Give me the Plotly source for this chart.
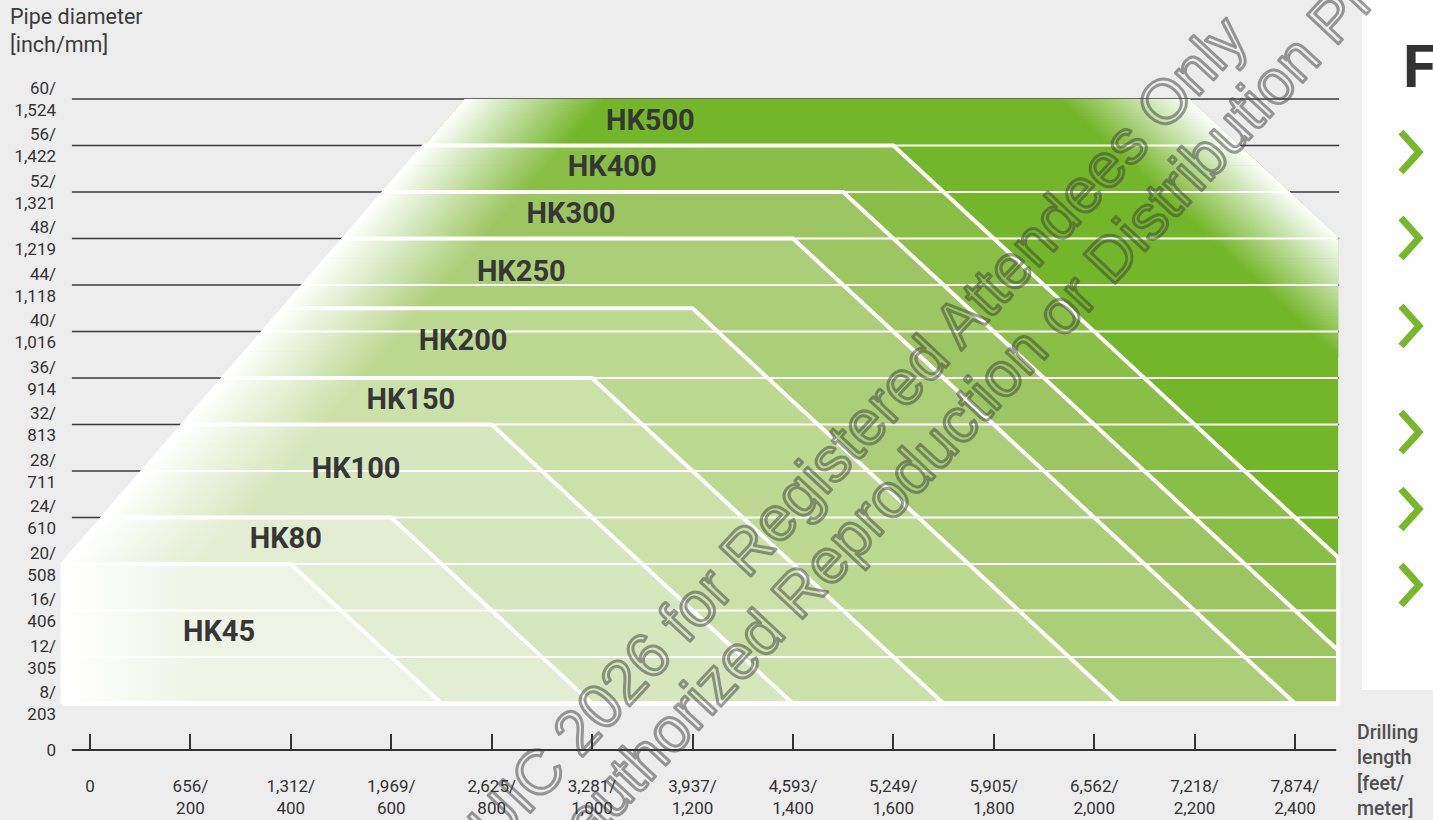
import math
import plotly.graph_objects as go

# ---------------- data ----------------
models = ["HK45", "HK80", "HK100", "HK150", "HK200", "HK250", "HK300", "HK400", "HK500"]
max_diameter_in = [20, 24, 32, 36, 42, 48, 52, 56, 60]          # top of each band
full_diameter_length_m = [400, 600, 800, 1000, 1200, 1400, 1500, 1600, 2190]  # end of flat top
band_colors = ["#eef3e5", "#e2edd1", "#d6e7bd", "#cbe1a9", "#bcd891",
               "#abcf79", "#9bc661", "#89be47", "#74b62a"]
label_x_m = [257, 390, 530, 639, 743, 859, 958, 1040, 1116]

diameter_in = [8, 12, 16, 20, 24, 28, 32, 36, 40, 44, 48, 52, 56, 60]
diameter_mm = [203, 305, 406, 508, 610, 711, 813, 914, 1016, 1118, 1219, 1321, 1422, 1524]
length_m = [0, 200, 400, 600, 800, 1000, 1200, 1400, 1600, 1800, 2000, 2200, 2400]
length_ft = [0, 656, 1312, 1969, 2625, 3281, 3937, 4593, 5249, 5905, 6562, 7218, 7874]

# ---------------- geometry / style constants ----------------
ZERO_POS = 4        # axis break: the "0" tick sits one step below 8 inch
MIN_D = 8           # bottom of the band area
ENV_X0 = -54        # left edge of band area (m)
ENV_KNEE = 20       # left edge is vertical up to this diameter
ENV_SLOPE = 20      # m per inch of the slanted left edge
DIAG = 25           # m per inch of the band diagonals
RIGHT_X = 2486      # right edge of band area (m)
GRID_X0, GRID_X1 = -36, 2488
AXIS_X1 = 2482
FADE_L = 280
FADE_R = 260
STEP = 0.25

W, H = 1433, 820
ML, MR, MT, MB = 60, 78, 52, 68
PLOT_W, PLOT_H = W - ML - MR, H - MT - MB
PX_PER_IN = 11.625
X_RANGE = [-59.75, 2519.5]
Y0 = ZERO_POS - 2 / PX_PER_IN
Y_RANGE = [Y0, Y0 + PLOT_H / PX_PER_IN]

TOP_D = max_diameter_in[-1]
L_TOP = full_diameter_length_m[-1]
FONT = "Roboto, Arial, sans-serif"


def paper_x(px):
    return (px - ML) / PLOT_W


def paper_y(py):
    return (H - MB - py) / PLOT_H


def env_left(d):
    return ENV_X0 + max(0.0, d - ENV_KNEE) * ENV_SLOPE


def top_right_edge(d):
    return min(RIGHT_X, L_TOP + DIAG * (TOP_D - d))


def band_outline(D, L):
    pts = [(ENV_X0, MIN_D), (ENV_X0, min(D, ENV_KNEE))]
    if D > ENV_KNEE:
        pts.append((env_left(D), D))
    pts.append((L, D))
    x_end = L + DIAG * (D - MIN_D)
    if x_end <= RIGHT_X:
        pts.append((x_end, MIN_D))
    else:
        d_hit = D - (RIGHT_X - L) / DIAG
        pts += [(RIGHT_X, d_hit), (RIGHT_X, MIN_D)]
    pts.append((ENV_X0, MIN_D))
    return [p[0] for p in pts], [p[1] for p in pts]


fig = go.Figure()

# black gridlines
gx, gy = [], []
for d in diameter_in:
    if d >= 12:
        gx += [GRID_X0, GRID_X1, None]
        gy += [d, d, None]
fig.add_trace(go.Scatter(x=gx, y=gy, mode="lines", line=dict(color="#3a3a3a", width=1.5),
                         hoverinfo="skip", showlegend=False))

# solid band fills (largest first)
for i in reversed(range(len(models))):
    bx, by = band_outline(max_diameter_in[i], full_diameter_length_m[i])
    fig.add_trace(go.Scatter(x=bx, y=by, mode="lines", line=dict(width=0), fill="toself",
                             fillcolor=band_colors[i], hoverinfo="skip", showlegend=False))

# left white fade
for i in range(len(models)):
    lo = max_diameter_in[i - 1] if i > 0 else MIN_D
    hi = max_diameter_in[i]
    if hi <= ENV_KNEE:
        segs = [(lo, hi)]
    else:
        n = int(round((hi - lo) / STEP))
        segs = [(lo + k * STEP, lo + (k + 1) * STEP) for k in range(n)]
    for (y0, y1) in segs:
        y1o = min(y1 + 0.06, hi)
        a0, a1 = env_left(y0), env_left(y1o)
        st = env_left((y0 + y1) / 2)
        fig.add_trace(go.Scatter(
            x=[a0, a0 + FADE_L + 12, a1 + FADE_L + 12, a1, a0], y=[y0, y0, y1o, y1o, y0],
            mode="lines", line=dict(width=0), fill="toself",
            fillgradient=dict(type="horizontal", colorscale=[[0, "#ffffff"], [1, band_colors[i]]],
                              start=st, stop=st + FADE_L),
            hoverinfo="skip", showlegend=False))

# top-right white fade (largest band)
d_start = TOP_D - (RIGHT_X + FADE_R - L_TOP) / DIAG
d_hit = TOP_D - (RIGHT_X - L_TOP) / DIAG
n = int(math.ceil((TOP_D - d_start) / STEP))
for j in range(n):
    y0 = TOP_D - (j + 1) * STEP
    y1 = TOP_D - j * STEP
    y1o = min(y1 + 0.06, TOP_D)
    xd0 = L_TOP + DIAG * (TOP_D - y0)
    xd1 = L_TOP + DIAG * (TOP_D - y1o)
    left0 = min(xd0 - FADE_R - 12, RIGHT_X)
    left1 = min(xd1 - FADE_R - 12, RIGHT_X)
    xs = [left0, top_right_edge(y0)]
    ys = [y0, y0]
    if y0 < d_hit < y1o:
        xs.append(RIGHT_X)
        ys.append(d_hit)
    xs += [top_right_edge(y1o), left1, left0]
    ys += [y1o, y1o, y0]
    mid = L_TOP + DIAG * (TOP_D - (y0 + y1) / 2)
    fig.add_trace(go.Scatter(
        x=xs, y=ys, mode="lines", line=dict(width=0), fill="toself",
        fillgradient=dict(type="horizontal", colorscale=[[0, band_colors[-1]], [1, "#ffffff"]],
                          start=mid - FADE_R, stop=mid),
        hoverinfo="skip", showlegend=False))

# thin white gridlines inside the area
wx, wy = [], []
for d in diameter_in:
    if 12 <= d < TOP_D:
        wx += [env_left(d), top_right_edge(d), None]
        wy += [d, d, None]
fig.add_trace(go.Scatter(x=wx, y=wy, mode="lines", line=dict(color="#ffffff", width=2),
                         hoverinfo="skip", showlegend=False))

# thick white band outlines
for i in range(len(models) - 1):
    bx, by = band_outline(max_diameter_in[i], full_diameter_length_m[i])
    fig.add_trace(go.Scatter(x=bx, y=by, mode="lines", line=dict(color="#ffffff", width=4),
                             hoverinfo="skip", showlegend=False))

# x axis line
fig.add_trace(go.Scatter(x=[GRID_X0, AXIS_X1], y=[ZERO_POS, ZERO_POS], mode="lines",
                         line=dict(color="#333333", width=2), hoverinfo="skip", showlegend=False))

# band labels
label_y = [((max_diameter_in[i - 1] if i > 0 else MIN_D) + max_diameter_in[i]) / 2
           for i in range(len(models))]
fig.add_trace(go.Scatter(x=label_x_m, y=label_y, mode="text", text=models,
                         textposition="middle center",
                         textfont=dict(family=FONT, size=29, color="#363636", weight="bold"),
                         hoverinfo="skip", showlegend=False))

x_ticktext = ["0" if m == 0 else f"{ft:,}/<br>{m:,}" for ft, m in zip(length_ft, length_m)]
y_tickvals = [ZERO_POS] + diameter_in
y_ticktext = ["0"] + [f"{d}/<br>{mm:,}" for d, mm in zip(diameter_in, diameter_mm)]

# decorations: right panel
shapes = [dict(type="rect", xref="paper", yref="paper", x0=paper_x(1362), x1=paper_x(1440),
               y0=paper_y(690), y1=paper_y(-5), fillcolor="#ffffff", line=dict(width=0),
               layer="below")]
for cy in [152, 238, 326, 432, 509, 585]:
    shapes.append(dict(type="path", xref="paper", yref="paper",
                       path=f"M {paper_x(1401)},{paper_y(cy - 20)} L {paper_x(1419)},{paper_y(cy)} "
                            f"L {paper_x(1401)},{paper_y(cy + 20)}",
                       line=dict(color="#76b82a", width=7)))

annotations = [
    dict(text="Pipe diameter<br>[inch/mm]", xref="paper", yref="paper",
         x=paper_x(8), y=paper_y(2), xanchor="left", yanchor="top", align="left",
         showarrow=False, font=dict(family=FONT, size=21.5, color="#3c3c3c")),
    dict(text="Drilling<br>length<br>[feet/<br>meter]", xref="paper", yref="paper",
         x=paper_x(1355), y=paper_y(719), xanchor="left", yanchor="top", align="left",
         showarrow=False, font=dict(family=FONT, size=19.5, color="#505050", weight=500)),
    dict(text="F", xref="paper", yref="paper", x=paper_x(1401), y=paper_y(66),
         xanchor="left", yanchor="middle", showarrow=False,
         font=dict(family=FONT, size=60, color="#333333", weight="bold")),
    dict(text="UIC 2026 for Registered Attendees Only", xref="paper", yref="paper",
         x=paper_x(857), y=paper_y(430), xanchor="center", yanchor="middle", textangle=-47,
         showarrow=False, font=dict(family="Liberation Sans, Arial, sans-serif", size=62,
                                    color="rgba(60,60,60,0.5)")),
    dict(text="Unauthorized Reproduction or Distribution Prohibited", xref="paper", yref="paper",
         x=paper_x(1015), y=paper_y(360), xanchor="center", yanchor="middle", textangle=-47,
         showarrow=False, font=dict(family="Liberation Sans, Arial, sans-serif", size=62,
                                    color="rgba(60,60,60,0.5)")),
]

fig.update_layout(
    width=W, height=H, autosize=False,
    margin=dict(l=ML, r=MR, t=MT, b=MB, pad=0, autoexpand=False),
    paper_bgcolor="#ededed", plot_bgcolor="#ededed",
    font=dict(family=FONT, color="#333333"),
    showlegend=False,
    xaxis=dict(range=X_RANGE, tickvals=length_m, ticktext=x_ticktext, ticks="inside",
               ticklen=16, tickwidth=1.5, tickcolor="#333333",
               tickfont=dict(size=17, color="#333333"),
               showgrid=False, zeroline=False, showline=False, automargin=False,
               anchor="free", position=2 / PLOT_H, ticklabelstandoff=24),
    yaxis=dict(range=Y_RANGE, tickvals=y_tickvals, ticktext=y_ticktext, ticks="",
               tickfont=dict(size=17, color="#333333"), ticklabelstandoff=3,
               showgrid=False, zeroline=False, showline=False, automargin=False),
    shapes=shapes,
    annotations=annotations,
)

post_js = """
document.documentElement.style.margin = '0';
document.documentElement.style.overflow = 'hidden';
document.body.style.margin = '0';
document.body.style.padding = '0';
document.body.style.overflow = 'hidden';
document.querySelectorAll('g.annotation text').forEach(function(t){
  var s = t.textContent || '';
  if (s.indexOf('Registered') >= 0 || s.indexOf('Unauthorized') >= 0) {
    t.style.fill = 'none';
    t.style.stroke = 'rgba(60,60,60,0.5)';
    t.style.strokeWidth = '3px';
    t.style.strokeLinejoin = 'round';
  }
});
"""

fig.write_html("out.html", config={"displayModeBar": False}, post_script=post_js)
